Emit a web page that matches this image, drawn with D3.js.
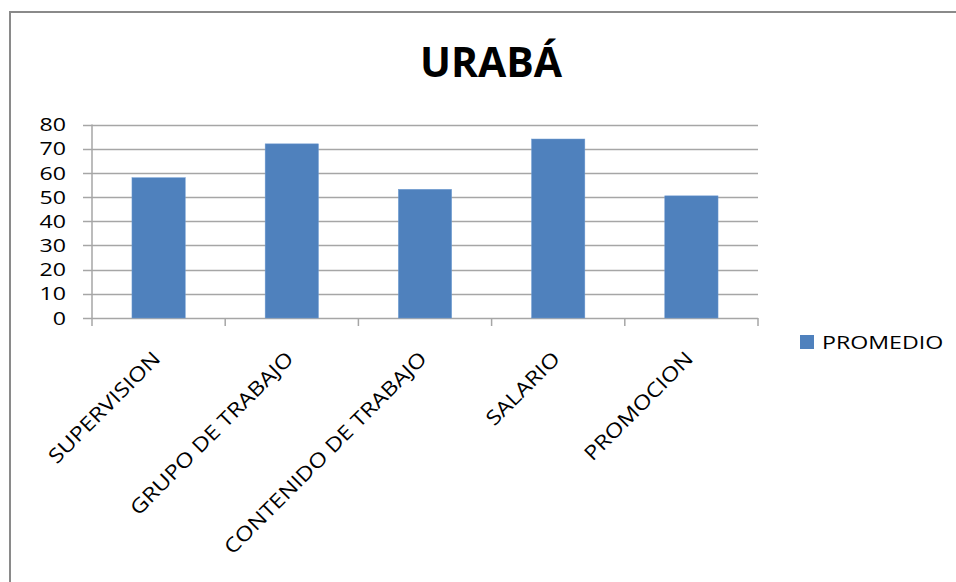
<!DOCTYPE html>
<html><head><meta charset="utf-8">
<script src="https://cdn.jsdelivr.net/npm/d3@7"></script>
<style>body{margin:0;background:#fff}svg{display:block}text{font-family:"Open Sans",sans-serif;fill:#000}</style>
</head><body>
<svg id="c" width="956" height="582"></svg>
<script>
const categories = ["SUPERVISION","GRUPO DE TRABAJO","CONTENIDO DE TRABAJO","SALARIO","PROMOCION"];
const values = [58, 72, 53.2, 74, 50.5];
const yTicks = [0,10,20,30,40,50,60,70,80];
const seriesName = "PROMEDIO";
const title = "URABÁ";

const svg = d3.select("#c");
// frame
svg.append("path").attr("d","M10,582 V12 H956").attr("fill","none").attr("stroke","#8a8a8a").attr("stroke-width",2);

const x0 = 92, x1 = 758, yTop = 124.5, yBot = 318;
const x = d3.scaleBand().domain(categories).range([x0,x1]).paddingInner(0.6).paddingOuter(0.3);
const y = d3.scaleLinear().domain([0,80]).range([yBot,yTop]);

// gridlines
svg.append("g").selectAll("line").data(yTicks).join("line")
  .attr("x1",83).attr("x2",x1).attr("y1",d=>Math.round(y(d))+0.5).attr("y2",d=>Math.round(y(d))+0.5)
  .attr("stroke","#a6a6a6").attr("stroke-width",1.5);

// y axis line
svg.append("line").attr("x1",x0).attr("x2",x0).attr("y1",yTop).attr("y2",yBot).attr("stroke","#a6a6a6").attr("stroke-width",1.5);
// y labels
svg.append("g").selectAll("text").data(yTicks).join("text")
  .attr("text-anchor","end").attr("dy","0.35em")
  .attr("transform",d=>`translate(66,${y(d)}) scale(1.22,1)`)
  .style("font-size","19px").text(d=>d);

// category ticks
const step = x.step();
const bounds = d3.range(categories.length+1).map(i=>x0+i*step);
svg.append("g").selectAll("line").data(bounds).join("line")
  .attr("x1",d=>d).attr("x2",d=>d).attr("y1",yBot).attr("y2",yBot+8)
  .attr("stroke","#a6a6a6").attr("stroke-width",1.5);

// bars
svg.append("g").selectAll("rect").data(values).join("rect")
  .attr("x",(d,i)=>x(categories[i])).attr("width",x.bandwidth())
  .attr("y",d=>y(d)).attr("height",d=>yBot-y(d))
  .attr("fill","#4f81bd").attr("stroke","#6f9bd1").attr("stroke-width",0.5);

// category labels
svg.append("g").selectAll("text").data(categories).join("text")
  .attr("text-anchor","end")
  .attr("transform",d=>`translate(${x(d)+x.bandwidth()/2+3},${360}) rotate(-45) scale(1.18,1)`)
  .style("font-size","20px").text(d=>d);

// title
svg.append("text").attr("x",491).attr("y",77).attr("text-anchor","middle")
  .style("font-size","41px").style("font-weight","bold").text(title);

// legend
svg.append("rect").attr("x",800).attr("y",335).attr("width",14).attr("height",14).attr("fill","#4f81bd");
svg.append("text").attr("transform","translate(822,349) scale(1.22,1)").style("font-size","19px").text(seriesName);
</script>
</body></html>
